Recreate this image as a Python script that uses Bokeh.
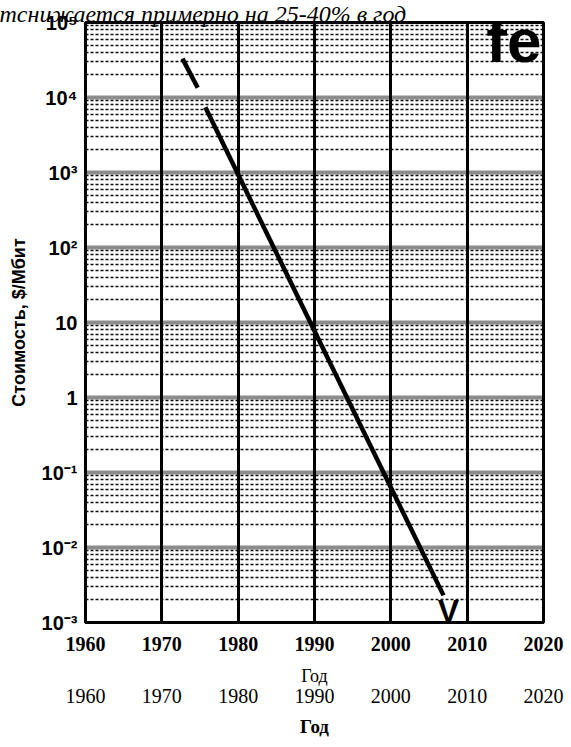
from bokeh.plotting import figure
from bokeh.models import FixedTicker, LinearAxis, Label, CustomJSTickFormatter, Title
from bokeh.embed import file_html
from bokeh.resources import INLINE

# ---- data ----
years_seg1 = [1972.7, 1974.7]
cost_seg1 = [3.3e4, 1.35e4]
years_seg2 = [1975.7, 2006.9]
cost_seg2 = [7.4e3, 2.3e-3]

x_ticks = [1960, 1970, 1980, 1990, 2000, 2010, 2020]
y_ticks = [1e-3, 1e-2, 1e-1, 1, 10, 1e2, 1e3, 1e4, 1e5]
y_tick_labels = ["10⁻³", "10⁻²", "10⁻¹", "1", "10", "10²", "10³", "10⁴", "10⁵"]
y_minor_mantissas = [2, 3, 4, 5, 6, 7, 8, 9]
y_minor = [m * t for t in y_ticks[:-1] for m in y_minor_mantissas]

title_text = "тснижается примерно на 25-40% в год"
y_label = "Стоимость, $/Мбит"
x_label = "Год"

p = figure(frame_width=458, frame_height=600, y_axis_type="log",
           x_range=(1960, 2020), y_range=(1e-3, 1e5),
           output_backend="svg", toolbar_location=None,
           min_border_left=85, min_border_top=22, min_border_right=24,
           min_border_bottom=0, background_fill_color="white",
           border_fill_color="white")
p.outline_line_color = "black"
p.outline_line_width = 3

t = Title(text=title_text, text_font="Liberation Serif", text_font_style="italic",
          text_font_size="24px", text_color="black", align="left",
          vertical_align="bottom", standoff=-8, offset=-86)
p.add_layout(t, "above")

yt = FixedTicker(ticks=y_ticks, minor_ticks=y_minor)
xt = FixedTicker(ticks=x_ticks)

# y axis
p.yaxis.ticker = yt
p.yaxis.formatter = CustomJSTickFormatter(args=dict(vals=y_ticks, labs=y_tick_labels), code="""
const k = Math.round(Math.log10(tick));
for (let i = 0; i < vals.length; i++) {
  if (Math.round(Math.log10(vals[i])) == k) return labs[i];
}
return "";
""")
p.yaxis.major_label_text_font = "Liberation Sans"
p.yaxis.major_label_text_font_style = "bold"
p.yaxis.major_label_text_font_size = "20px"
p.yaxis.major_label_text_color = "black"
p.yaxis.major_label_standoff = 8
p.yaxis.major_tick_out = 0
p.yaxis.major_tick_in = 0
p.yaxis.minor_tick_out = 0
p.yaxis.minor_tick_in = 0
p.yaxis.axis_line_width = 3
p.yaxis.axis_line_color = "black"
p.yaxis.axis_label = y_label
p.yaxis.axis_label_text_font = "Liberation Sans"
p.yaxis.axis_label_text_font_style = "bold"
p.yaxis.axis_label_text_font_size = "18px"
p.yaxis.axis_label_text_color = "black"
p.yaxis.axis_label_standoff = 10

# x axis (bold row)
p.xaxis.ticker = xt
p.xaxis.major_label_text_font = "Liberation Serif"
p.xaxis.major_label_text_font_style = "bold"
p.xaxis.major_label_text_font_size = "20px"
p.xaxis.major_label_text_color = "black"
p.xaxis.major_label_standoff = 14
p.xaxis.major_tick_out = 0
p.xaxis.major_tick_in = 0
p.xaxis.minor_tick_out = 0
p.xaxis.minor_tick_in = 0
p.xaxis.axis_line_width = 3
p.xaxis.axis_line_color = "black"
p.xaxis.axis_label = x_label
p.xaxis.axis_label_text_font = "Liberation Serif"
p.xaxis.axis_label_text_font_style = "normal"
p.xaxis.axis_label_text_font_size = "18px"
p.xaxis.axis_label_text_color = "black"
p.xaxis.axis_label_standoff = 12

# second x axis (plain row)
ax2 = LinearAxis(ticker=FixedTicker(ticks=x_ticks), axis_label=x_label,
                 axis_line_color=None, major_tick_line_color=None,
                 minor_tick_line_color=None,
                 major_tick_out=0, major_tick_in=0,
                 minor_tick_out=0, minor_tick_in=0,
                 major_label_text_font="Liberation Serif",
                 major_label_text_font_size="20px",
                 major_label_text_color="black",
                 major_label_standoff=0,
                 axis_label_text_font="Liberation Serif",
                 axis_label_text_font_style="bold",
                 axis_label_text_font_size="19px",
                 axis_label_text_color="black",
                 axis_label_standoff=10)
p.add_layout(ax2, "below")

# grids
p.xgrid.ticker = xt
p.xgrid.grid_line_color = "black"
p.xgrid.grid_line_width = 3
p.xgrid.grid_line_alpha = 1.0
p.ygrid.ticker = yt
p.ygrid.grid_line_color = "black"
p.ygrid.grid_line_width = 4
p.ygrid.grid_line_dash = "1 1"
p.ygrid.grid_line_alpha = 0.9
p.ygrid.minor_grid_line_color = "black"
p.ygrid.minor_grid_line_width = 1.6
p.ygrid.minor_grid_line_dash = "3 2"
p.ygrid.minor_grid_line_alpha = 0.95

# trend line
p.multi_line(xs=[years_seg1, years_seg2], ys=[cost_seg1, cost_seg2],
             line_color="black", line_width=4.5)

# texts from the scan
p.add_layout(Label(x=456, y=582, x_units="screen", y_units="screen",
                   text="fe", text_font="Liberation Sans",
                   text_font_style="bold", text_font_size="62px",
                   text_color="black", text_align="right",
                   text_baseline="alphabetic", level="overlay"))
p.add_layout(Label(x=363, y=12, x_units="screen", y_units="screen",
                   text="V", text_font="Liberation Sans",
                   text_font_style="bold", text_font_size="32px",
                   text_color="black", text_align="center",
                   text_baseline="alphabetic", level="overlay"))

open("out.html", "w").write(file_html(p, INLINE))
